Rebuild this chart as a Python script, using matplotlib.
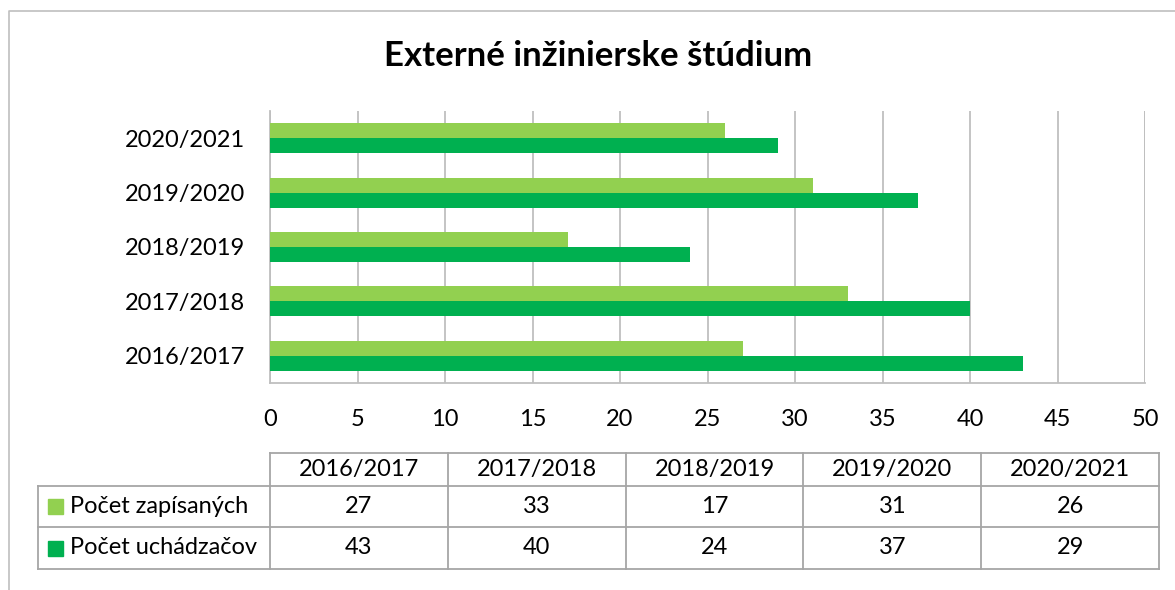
import matplotlib
matplotlib.use("Agg")
import matplotlib.pyplot as plt
from matplotlib.patches import Rectangle

plt.rcParams['font.family'] = ['Lato', 'DejaVu Sans']

title = "Externé inžinierske štúdium"
categories = ["2016/2017", "2017/2018", "2018/2019", "2019/2020", "2020/2021"]
series_names = ["Počet zapísaných", "Počet uchádzačov"]
zapisanych = [27, 33, 17, 31, 26]
uchadzacov = [43, 40, 24, 37, 29]
xticks = [0, 5, 10, 15, 20, 25, 30, 35, 40, 45, 50]
colors = ["#92D050", "#00B050"]

W, H = 1175, 590
fig = plt.figure(figsize=(W / 100, H / 100), dpi=100)

def fx(px):
    return px / W

def fy(py):
    return 1 - py / H

# overlay for border, title, data table
ov = fig.add_axes([0, 0, 1, 1], zorder=0)
ov.set_xlim(0, W)
ov.set_ylim(H, 0)
ov.axis("off")
ov.plot([9, 9, W + 5], [H + 5, 11, 11], color="#bfbfbf", lw=1.2, clip_on=False)
ov.text(598, 56, title, ha="center", va="center", fontsize=25, fontweight="bold")

# plot area
x0, x1, ytop, ybot = 270, 1145, 111, 383
ax = fig.add_axes([fx(x0), fy(ybot), fx(x1) - fx(x0), (ybot - ytop) / H], zorder=1)
ax.patch.set_alpha(0)
pos = list(range(len(categories)))
bh = 0.275
ax.barh([p + bh / 2 for p in pos], zapisanych, height=bh, color=colors[0], zorder=3)
ax.barh([p - bh / 2 for p in pos], uchadzacov, height=bh, color=colors[1], zorder=3)
ax.set_xlim(0, 50)
ax.set_ylim(-0.5, len(categories) - 0.5)
ax.set_xticks(xticks)
ax.set_yticks(pos)
ax.set_yticklabels(categories)
ax.tick_params(axis="both", length=0, labelsize=17)
ax.tick_params(axis="y", pad=18)
ax.tick_params(axis="x", pad=19)
ax.grid(axis="x", color="#bfbfbf", lw=1.3, zorder=0)
for s in ["top", "right"]:
    ax.spines[s].set_visible(False)
for s in ["left", "bottom"]:
    ax.spines[s].set_color("#bfbfbf")
    ax.spines[s].set_linewidth(1.3)
ax.axvline(50, color="#bfbfbf", lw=1.3, zorder=0)

# data table
gc = "#a6a6a6"
col_edges = [270 + i * 177.8 for i in range(len(categories) + 1)]
row_y = [453, 486, 527, 569]
left = 38
ov.plot([col_edges[0], col_edges[-1]], [row_y[0]] * 2, color=gc, lw=1.3)
for yy in row_y[1:]:
    ov.plot([left, col_edges[-1]], [yy] * 2, color=gc, lw=1.3)
ov.plot([left, left], [row_y[1], row_y[3]], color=gc, lw=1.3)
for xx in col_edges:
    ov.plot([xx, xx], [row_y[0], row_y[3]], color=gc, lw=1.3)
for i, c in enumerate(categories):
    cx = (col_edges[i] + col_edges[i + 1]) / 2
    ov.text(cx, (row_y[0] + row_y[1]) / 2, c, ha="center", va="center", fontsize=17)
for r, (name, vals, col) in enumerate(zip(series_names, [zapisanych, uchadzacov], colors)):
    cy = (row_y[r + 1] + row_y[r + 2]) / 2
    ov.add_patch(Rectangle((48, cy - 7.5), 15, 15, color=col))
    ov.text(70, cy, name, ha="left", va="center", fontsize=17)
    for i, v in enumerate(vals):
        cx = (col_edges[i] + col_edges[i + 1]) / 2
        ov.text(cx, cy, str(v), ha="center", va="center", fontsize=17)

fig.savefig("out.png", dpi=100)
